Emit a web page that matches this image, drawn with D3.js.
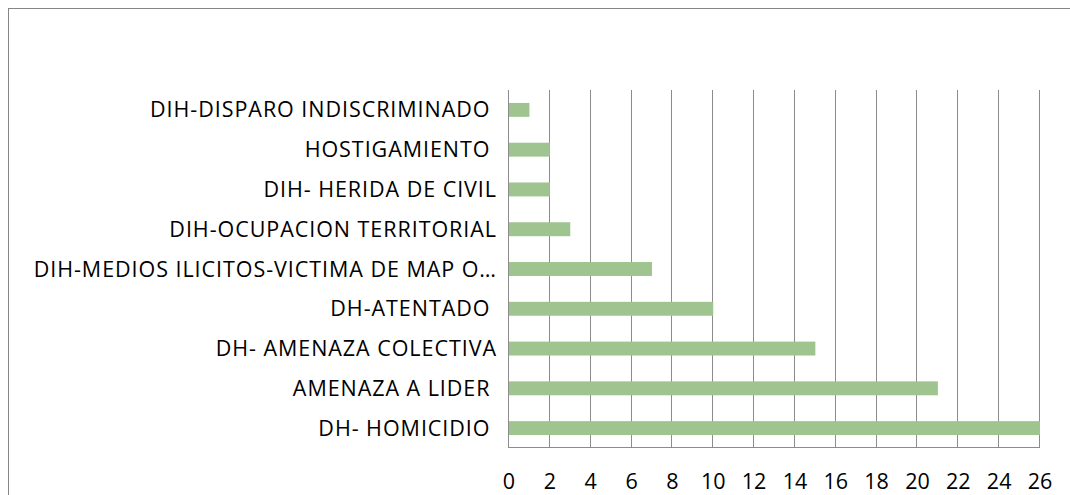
<!DOCTYPE html>
<html>
<head>
<meta charset="utf-8">
<script src="https://cdn.jsdelivr.net/npm/d3@7"></script>
<style>
  body { margin: 0; background: #fff; }
  text { font-family: "Open Sans", sans-serif; fill: #000; }
</style>
</head>
<body>
<div id="chart"></div>
<script>
// categories from top to bottom
var categories = [
  "DIH-DISPARO INDISCRIMINADO ",
  "HOSTIGAMIENTO ",
  "DIH- HERIDA DE CIVIL",
  "DIH-OCUPACION TERRITORIAL",
  "DIH-MEDIOS ILICITOS-VICTIMA DE MAP O…",
  "DH-ATENTADO ",
  "DH- AMENAZA COLECTIVA",
  "AMENAZA A LIDER ",
  "DH- HOMICIDIO "
];
var values = [1, 2, 2, 3, 7, 10, 15, 21, 26];
var tickValues = [0, 2, 4, 6, 8, 10, 12, 14, 16, 18, 20, 22, 24, 26];

var width = 1070, height = 495;
var svg = d3.select("#chart").append("svg")
    .attr("width", width)
    .attr("height", height);

// outer frame
svg.append("rect")
    .attr("x", 8.5).attr("y", 8.5)
    .attr("width", 1070).attr("height", 500)
    .style("fill", "none")
    .style("stroke", "#868686");

var x = d3.scaleLinear().domain([0, 26]).range([508, 1039]);
var y = d3.scaleBand().domain(categories).range([90, 448]).paddingInner(0.65).paddingOuter(0.325);

// gridlines
svg.append("g")
  .selectAll("line")
  .data(tickValues)
  .enter().append("line")
    .attr("x1", d => Math.round(x(d)) + 0.5)
    .attr("x2", d => Math.round(x(d)) + 0.5)
    .attr("y1", 90)
    .attr("y2", 448)
    .style("stroke", "#8c8c8c")
    .style("stroke-width", 1);

// bottom axis line
svg.append("line")
    .attr("x1", x(0)).attr("x2", x(26) + 1)
    .attr("y1", 447.5).attr("y2", 447.5)
    .style("stroke", "#8c8c8c");

// bars
svg.append("g")
  .selectAll("rect")
  .data(values)
  .enter().append("rect")
    .attr("x", x(0) + 1)
    .attr("y", (d, i) => y(categories[i]))
    .attr("width", d => x(d) - x(0))
    .attr("height", y.bandwidth())
    .style("fill", "#9fc48f");

// category labels
svg.append("g")
  .selectAll("text")
  .data(categories)
  .enter().append("text")
    .attr("x", 497)
    .attr("y", d => y(d) + y.bandwidth() / 2)
    .attr("dy", "0.35em")
    .attr("text-anchor", "end")
    .style("font-size", "21.5px")
    .style("letter-spacing", "0.95px")
    .style("white-space", "pre")
    .text(d => d);

// tick labels
svg.append("g")
  .selectAll("text")
  .data(tickValues)
  .enter().append("text")
    .attr("x", d => x(d) + 1)
    .attr("y", 481)
    .attr("dy", "0.35em")
    .attr("text-anchor", "middle")
    .style("font-size", "21.5px")
    .text(d => d);
</script>
</body>
</html>
